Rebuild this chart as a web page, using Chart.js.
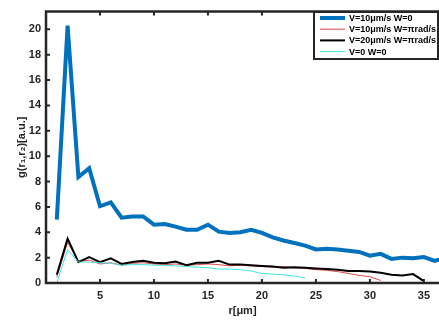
<!DOCTYPE html>
<html>
<head>
<meta charset="utf-8">
<script src="https://cdn.jsdelivr.net/npm/chart.js@4/dist/chart.umd.min.js"></script>
<style>
  html, body { margin: 0; padding: 0; background: #fff; }
  #wrap { width: 439px; height: 322px; }
</style>
</head>
<body>
<div id="wrap"><canvas id="c"></canvas></div>
<script>
// r positions (micrometres) and the four g(r1,r2) curves
var r = [1,2,3,4,5,6,7,8,9,10,11,12,13,14,15,16,17,18,19,20,21,22,23,24,25,26,27,28,29,30,31,32,33,34,35,36,37];
var v10w0   = [5.0,20.3,8.35,9.05,6.05,6.35,5.15,5.25,5.25,4.6,4.65,4.45,4.2,4.2,4.6,4.05,3.95,4.0,4.2,3.95,3.6,3.35,3.15,2.95,2.65,2.7,2.65,2.55,2.45,2.15,2.3,1.9,2.0,1.95,2.05,1.75,1.95];
var v10wpi  = [0.45,3.2,1.7,1.8,1.5,1.6,1.4,1.55,1.6,1.5,1.45,1.5,1.4,1.45,1.5,1.45,1.35,1.4,1.35,1.3,1.25,1.3,1.2,1.15,1.05,1.0,0.9,0.75,0.6,0.5,0.2];
var v20wpi  = [0.65,3.5,1.65,2.05,1.65,1.95,1.5,1.65,1.75,1.6,1.55,1.7,1.4,1.6,1.6,1.75,1.45,1.45,1.4,1.35,1.3,1.2,1.25,1.2,1.15,1.1,1.05,0.95,0.95,0.9,0.8,0.65,0.6,0.7,0.15];
var v0w0    = [0.0,2.65,1.65,1.65,1.6,1.55,1.4,1.45,1.45,1.4,1.4,1.35,1.3,1.25,1.2,1.1,1.1,1.05,0.95,0.75,0.7,0.65,0.55,0.4];
var labels  = ["V=10\u03bcm/s W=0", "V=10\u03bcm/s W=\u03c0rad/s", "V=20\u03bcm/s W=\u03c0rad/s", "V=0 W=0"];
var xTicks  = [5,10,15,20,25,30,35];
var yTicks  = [0,2,4,6,8,10,12,14,16,18,20];

function pts(ys) {
  return ys.map(function (y, i) { return {x: r[i], y: y}; });
}

var FONT = '"Liberation Sans", Arial, Helvetica, sans-serif';
var INK = '#262626';

// frame (top/left/bottom) with inward ticks, MATLAB style
var framePlugin = {
  id: 'frame',
  afterDatasetsDraw: function (chart) {
    var ctx = chart.ctx, a = chart.chartArea;
    var xs = chart.scales.x, ys = chart.scales.y;
    ctx.save();
    ctx.strokeStyle = INK;
    ctx.lineWidth = 2.5;
    ctx.beginPath();
    ctx.moveTo(chart.width, a.top);
    ctx.lineTo(a.left, a.top);
    ctx.lineTo(a.left, a.bottom);
    ctx.lineTo(chart.width, a.bottom);
    ctx.stroke();
    ctx.lineWidth = 2;
    ctx.beginPath();
    xTicks.forEach(function (t) {
      var px = xs.getPixelForValue(t);
      ctx.moveTo(px, a.bottom); ctx.lineTo(px, a.bottom - 4);
      ctx.moveTo(px, a.top); ctx.lineTo(px, a.top + 4);
    });
    yTicks.forEach(function (t) {
      var py = ys.getPixelForValue(t);
      ctx.moveTo(a.left, py); ctx.lineTo(a.left + 4, py);
    });
    ctx.stroke();
    ctx.restore();
  }
};

// boxed legend in the upper right corner
var legendPlugin = {
  id: 'boxLegend',
  afterDraw: function (chart) {
    var ctx = chart.ctx;
    var bx = 314, by = 12, bw = 124, bh = 47;
    ctx.save();
    ctx.fillStyle = '#fff';
    ctx.fillRect(bx, by, bw, bh);
    ctx.strokeStyle = INK;
    ctx.lineWidth = 2;
    ctx.strokeRect(bx, by, bw, bh);
    ctx.font = 'bold 9px ' + FONT;
    ctx.textBaseline = 'middle';
    chart.data.datasets.forEach(function (ds, i) {
      var y = by + 6 + i * 11.2;
      ctx.strokeStyle = ds.borderColor;
      ctx.lineWidth = ds.borderWidth;
      ctx.beginPath();
      ctx.moveTo(bx + 6, y);
      ctx.lineTo(bx + 31, y);
      ctx.stroke();
      ctx.fillStyle = '#000';
      ctx.fillText(ds.label, bx + 35, y + 0.5);
    });
    ctx.restore();
  }
};

new Chart(document.getElementById('c'), {
  type: 'line',
  data: {
    datasets: [
      {label: labels[0], data: pts(v10w0),  borderColor: '#0072BD', borderWidth: 4, order: 4},
      {label: labels[1], data: pts(v10wpi), borderColor: '#e04848', borderWidth: 1, order: 3},
      {label: labels[2], data: pts(v20wpi), borderColor: '#000000', borderWidth: 2, order: 2},
      {label: labels[3], data: pts(v0w0),   borderColor: '#3ee6e6', borderWidth: 1, order: 1}
    ]
  },
  options: {
    responsive: true,
    maintainAspectRatio: false,
    animation: false,
    layout: {padding: {top: 4, right: 0, left: 0, bottom: 0}},
    elements: {point: {radius: 0}, line: {tension: 0, borderJoinStyle: 'miter'}},
    plugins: {legend: {display: false}, tooltip: {enabled: false}},
    scales: {
      x: {
        type: 'linear', min: 0, max: 36.4,
        grid: {display: false, drawTicks: false},
        border: {display: false},
        afterBuildTicks: function (s) { s.ticks = xTicks.map(function (v) { return {value: v}; }); },
        afterFit: function (s) { s.height = 39; },
        ticks: {color: INK, font: {family: FONT, size: 11, weight: 'bold'}, padding: 6, maxRotation: 0},
        title: {display: true, text: 'r[\u03bcm]', color: INK, font: {family: FONT, size: 11, weight: 'bold'}, padding: {top: 0, bottom: 4}}
      },
      y: {
        min: 0, max: 21.4,
        grid: {display: false, drawTicks: false},
        border: {display: false},
        afterBuildTicks: function (s) { s.ticks = yTicks.map(function (v) { return {value: v}; }); },
        afterFit: function (s) { s.width = 46; },
        ticks: {color: INK, font: {family: FONT, size: 11, weight: 'bold'}, padding: 5},
        title: {display: true, text: 'g(r\u2081,r\u2082)[a.u.]', color: INK, font: {family: FONT, size: 11, weight: 'bold'}, padding: {top: 15, bottom: 0}}
      }
    }
  },
  plugins: [framePlugin, legendPlugin]
});
</script>
</body>
</html>
